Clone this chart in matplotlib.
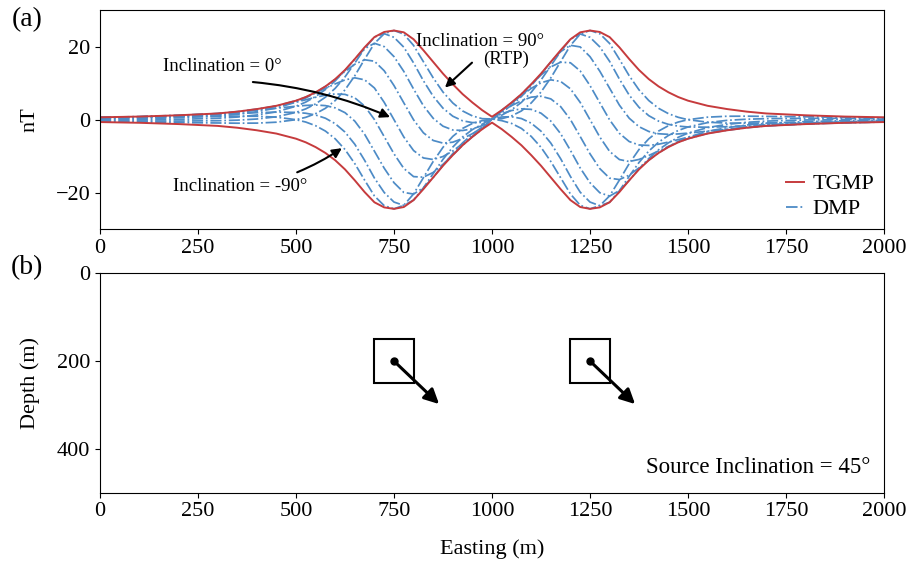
import matplotlib
matplotlib.use('Agg')
import matplotlib.pyplot as plt
from matplotlib.patches import Rectangle
from matplotlib.lines import Line2D

plt.rcParams['font.family'] = ['Liberation Serif', 'DejaVu Serif']
plt.rcParams['font.size'] = 16

# ---------------- data ----------------
easting = [0, 100, 200, 300, 350, 400, 450, 500, 525, 550, 575, 600, 625, 650, 675,
           700, 725, 750, 775, 800, 825, 850, 875, 900, 925, 950, 975, 1000,
           1025, 1050, 1075, 1100, 1125, 1150, 1175, 1200, 1225, 1250, 1275, 1300,
           1325, 1350, 1375, 1400, 1425, 1450, 1475, 1500, 1550, 1600, 1650, 1700,
           1800, 1900, 2000]

tgmp = [0.65, 0.85, 1.2, 1.7, 2.2, 2.9, 3.8, 5.2, 6.2, 7.5, 9.1, 11.1, 13.6, 16.6, 19.8,
        22.6, 24.0, 24.4, 23.9, 22.0, 19.0, 15.8, 12.6, 9.7, 7.0, 4.7, 2.6, 0.8,
        2.6, 4.7, 7.0, 9.7, 12.6, 15.8, 19.0, 22.0, 23.9, 24.4, 24.0, 22.6,
        19.8, 16.6, 13.6, 11.1, 9.1, 7.5, 6.2, 5.2, 3.8, 2.9, 2.2, 1.7,
        1.2, 0.85, 0.65]

dmp_inc_p90 = [-0.52, -0.63, -0.79, -0.90, -0.96, -0.94, -0.69, 0.00, 0.65, 1.65, 3.11, 5.23, 8.16, 12.02, 16.53,
               20.86, 23.52, 24.40, 23.42, 20.31, 15.87, 11.44, 7.56, 4.57, 2.39, 1.03, 0.27, 0.2,
               0.27, 1.03, 2.39, 4.57, 7.56, 11.44, 15.87, 20.31, 23.42, 24.40, 23.52, 20.86,
               16.53, 12.02, 8.16, 5.23, 3.11, 1.65, 0.65, 0.00, -0.69, -0.94, -0.96, -0.90,
               -0.79, -0.63, -0.52]
dmp_inc_p67 = [-0.33, -0.36, -0.38, -0.28, -0.13, 0.18, 0.80, 1.99, 2.96, 4.32, 6.15, 8.58, 11.71, 15.49, 19.44,
               22.60, 23.54, 22.54, 19.84, 15.53, 10.66, 6.40, 3.14, 0.95, -0.31, -0.80, -0.74, 0.2,
               1.24, 2.71, 4.73, 7.50, 10.85, 14.74, 18.66, 22.00, 23.45, 22.54, 19.92, 15.96,
               11.11, 6.72, 3.39, 1.09, -0.40, -1.28, -1.76, -1.99, -2.06, -1.92, -1.65, -1.38,
               -1.08, -0.80, -0.63]
dmp_inc_p45 = [-0.09, -0.04, 0.08, 0.39, 0.72, 1.28, 2.16, 3.68, 4.82, 6.34, 8.24, 10.62, 13.46, 16.60, 19.40,
               20.91, 19.99, 17.25, 13.22, 8.38, 3.82, 0.38, -1.78, -2.82, -2.96, -2.51, -1.64, 0.2,
               2.02, 3.97, 6.34, 9.28, 12.47, 15.80, 18.62, 20.35, 19.91, 17.25, 13.27, 8.61,
               3.98, 0.40, -1.92, -3.23, -3.85, -4.01, -3.90, -3.68, -3.13, -2.60, -2.08, -1.66,
               -1.20, -0.85, -0.64]
dmp_inc_p22 = [0.16, 0.28, 0.53, 0.99, 1.46, 2.18, 3.19, 4.80, 5.95, 7.39, 9.09, 11.04, 13.18, 15.17, 16.39,
               16.00, 13.39, 9.34, 4.61, -0.04, -3.59, -5.69, -6.41, -6.16, -5.16, -3.84, -2.29, 0.2,
               2.49, 4.63, 6.99, 9.65, 12.21, 14.44, 15.73, 15.58, 13.34, 9.34, 4.63, -0.05,
               -3.74, -5.98, -6.92, -7.05, -6.71, -6.13, -5.45, -4.80, -3.72, -2.89, -2.20, -1.68,
               -1.14, -0.77, -0.56]
dmp_inc_0 = [0.39, 0.57, 0.90, 1.44, 1.98, 2.74, 3.74, 5.20, 6.17, 7.32, 8.55, 9.79, 10.88, 11.45, 10.91,
             8.68, 4.75, 0.00, -4.73, -8.45, -10.47, -10.90, -10.08, -8.56, -6.58, -4.59, -2.59, 0.2,
             2.59, 4.59, 6.58, 8.56, 10.08, 10.90, 10.47, 8.45, 4.73, 0.00, -4.75, -8.68,
             -10.91, -11.45, -10.88, -9.79, -8.55, -7.32, -6.17, -5.20, -3.74, -2.74, -1.98, -1.44,
             -0.90, -0.57, -0.39]
dmp_inc_m22 = [0.56, 0.77, 1.14, 1.68, 2.20, 2.89, 3.72, 4.80, 5.45, 6.13, 6.71, 7.05, 6.92, 5.98, 3.74,
               0.05, -4.63, -9.34, -13.34, -15.58, -15.73, -14.44, -12.21, -9.65, -6.99, -4.63, -2.49, 0.2,
               2.29, 3.84, 5.16, 6.16, 6.41, 5.69, 3.59, 0.04, -4.61, -9.34, -13.39, -16.00,
               -16.39, -15.17, -13.18, -11.04, -9.09, -7.39, -5.95, -4.80, -3.19, -2.18, -1.46, -0.99,
               -0.53, -0.28, -0.16]
dmp_inc_m45 = [0.64, 0.85, 1.20, 1.66, 2.08, 2.60, 3.13, 3.68, 3.90, 4.01, 3.85, 3.23, 1.92, -0.40, -3.98,
               -8.61, -13.27, -17.25, -19.91, -20.35, -18.62, -15.80, -12.47, -9.28, -6.34, -3.97, -2.02, 0.2,
               1.64, 2.51, 2.96, 2.82, 1.78, -0.38, -3.82, -8.38, -13.22, -17.25, -19.99, -20.91,
               -19.40, -16.60, -13.46, -10.62, -8.24, -6.34, -4.82, -3.68, -2.16, -1.28, -0.72, -0.39,
               -0.08, 0.04, 0.09]
dmp_inc_m67 = [0.63, 0.80, 1.08, 1.38, 1.65, 1.92, 2.06, 1.99, 1.76, 1.28, 0.40, -1.09, -3.39, -6.72, -11.11,
               -15.96, -19.92, -22.54, -23.45, -22.00, -18.66, -14.74, -10.85, -7.50, -4.73, -2.71, -1.24, 0.2,
               0.74, 0.80, 0.31, -0.95, -3.14, -6.40, -10.66, -15.53, -19.84, -22.54, -23.54, -22.60,
               -19.44, -15.49, -11.71, -8.58, -6.15, -4.32, -2.96, -1.99, -0.80, -0.18, 0.13, 0.28,
               0.38, 0.36, 0.33]
dmp_inc_m90 = [0.52, 0.63, 0.79, 0.90, 0.96, 0.94, 0.69, 0.00, -0.65, -1.65, -3.11, -5.23, -8.16, -12.02, -16.53,
               -20.86, -23.52, -24.40, -23.42, -20.31, -15.87, -11.44, -7.56, -4.57, -2.39, -1.03, -0.27, 0.2,
               -0.27, -1.03, -2.39, -4.57, -7.56, -11.44, -15.87, -20.31, -23.42, -24.40, -23.52, -20.86,
               -16.53, -12.02, -8.16, -5.23, -3.11, -1.65, -0.65, 0.00, 0.69, 0.94, 0.96, 0.90,
               0.79, 0.63, 0.52]

dmp_curves = [dmp_inc_p90, dmp_inc_p67, dmp_inc_p45, dmp_inc_p22, dmp_inc_0,
              dmp_inc_m22, dmp_inc_m45, dmp_inc_m67, dmp_inc_m90]

# source bodies (panel b)
source_x = [750, 1250]          # centre easting (m)
source_depth = [200, 200]       # centre depth (m)
source_size = 100               # square side (m)
arrow_tip_x = [865, 1365]
arrow_tip_depth = [298, 298]

xticks = [0, 250, 500, 750, 1000, 1250, 1500, 1750, 2000]

red = '#c63b3d'
blue = '#4d8bc6'

fig = plt.figure(figsize=(9.09, 5.64), dpi=100)
ax1 = fig.add_axes([0.110, 0.5934, 0.8625, 0.3888])
ax2 = fig.add_axes([0.110, 0.1264, 0.8625, 0.389])

# ---------------- panel (a) ----------------
for ys in dmp_curves:
    ax1.plot(easting, ys, color=blue, lw=1.25, ls='-.')
ax1.plot(easting, tgmp, color=red, lw=1.4)
ax1.plot(easting, [-v for v in tgmp], color=red, lw=1.4)

ax1.set_xlim(0, 2000)
ax1.set_ylim(-30, 30)
ax1.set_xticks(xticks)
ax1.set_yticks([-20, 0, 20])
ax1.set_ylabel('nT')
ax1.yaxis.set_label_coords(-0.077, 0.5)

handles = [Line2D([], [], color=red, lw=1.4),
           Line2D([], [], color=blue, lw=1.3, ls='-.')]
ax1.legend(handles, ['TGMP', 'DMP'], loc='lower right', frameon=False,
           handlelength=0.85, handletextpad=0.35, labelspacing=0.2,
           borderpad=0.1, borderaxespad=0.35, fontsize=16)

ann_kw = dict(arrowstyle='-|>', color='k', lw=1.5, mutation_scale=14,
              shrinkA=0, shrinkB=0)
ax1.text(311, 14.5, 'Inclination = 0°', ha='center', va='center', fontsize=13.5)
ax1.annotate('', xy=(740, 0.7), xytext=(390, 10.3),
             arrowprops=dict(connectionstyle='arc3,rad=-0.08', **ann_kw))
ax1.text(969, 21.3, 'Inclination = 90°', ha='center', va='center', fontsize=13.5)
ax1.text(1036, 16.4, '(RTP)', ha='center', va='center', fontsize=13.5)
ax1.annotate('', xy=(880, 8.8), xytext=(949, 15.6), arrowprops=ann_kw)
ax1.text(357, -18.2, 'Inclination = -90°', ha='center', va='center', fontsize=13.5)
ax1.annotate('', xy=(617, -7.8), xytext=(503, -14.4),
             arrowprops=dict(connectionstyle='arc3,rad=0.05', **ann_kw))

# ---------------- panel (b) ----------------
for cx, cz, tx, tz in zip(source_x, source_depth, arrow_tip_x, arrow_tip_depth):
    ax2.add_patch(Rectangle((cx - source_size / 2, cz - source_size / 2),
                            source_size, source_size, fill=False,
                            edgecolor='k', lw=1.5))
    ax2.annotate('', xy=(tx, tz), xytext=(cx, cz),
                 arrowprops=dict(arrowstyle='-|>', color='k', lw=2.2,
                                 mutation_scale=22, shrinkA=0, shrinkB=0))
    ax2.plot([cx], [cz], 'o', color='k', ms=5)

ax2.set_xlim(0, 2000)
ax2.set_ylim(500, 0)
ax2.set_xticks(xticks)
ax2.set_yticks([0, 200, 400])
ax2.set_ylabel('Depth (m)')
ax2.yaxis.set_label_coords(-0.077, 0.5)
ax2.set_xlabel('Easting (m)')
ax2.xaxis.set_label_coords(0.5, -0.21)
ax2.text(0.982, 0.117, 'Source Inclination = 45°', transform=ax2.transAxes,
         ha='right', va='center', fontsize=16.5)

fig.text(27 / 909, 1 - 20 / 564, '(a)', ha='center', va='center', fontsize=20)
fig.text(27 / 909, 1 - 268 / 564, '(b)', ha='center', va='center', fontsize=20)

fig.savefig('out.png', dpi=100)
